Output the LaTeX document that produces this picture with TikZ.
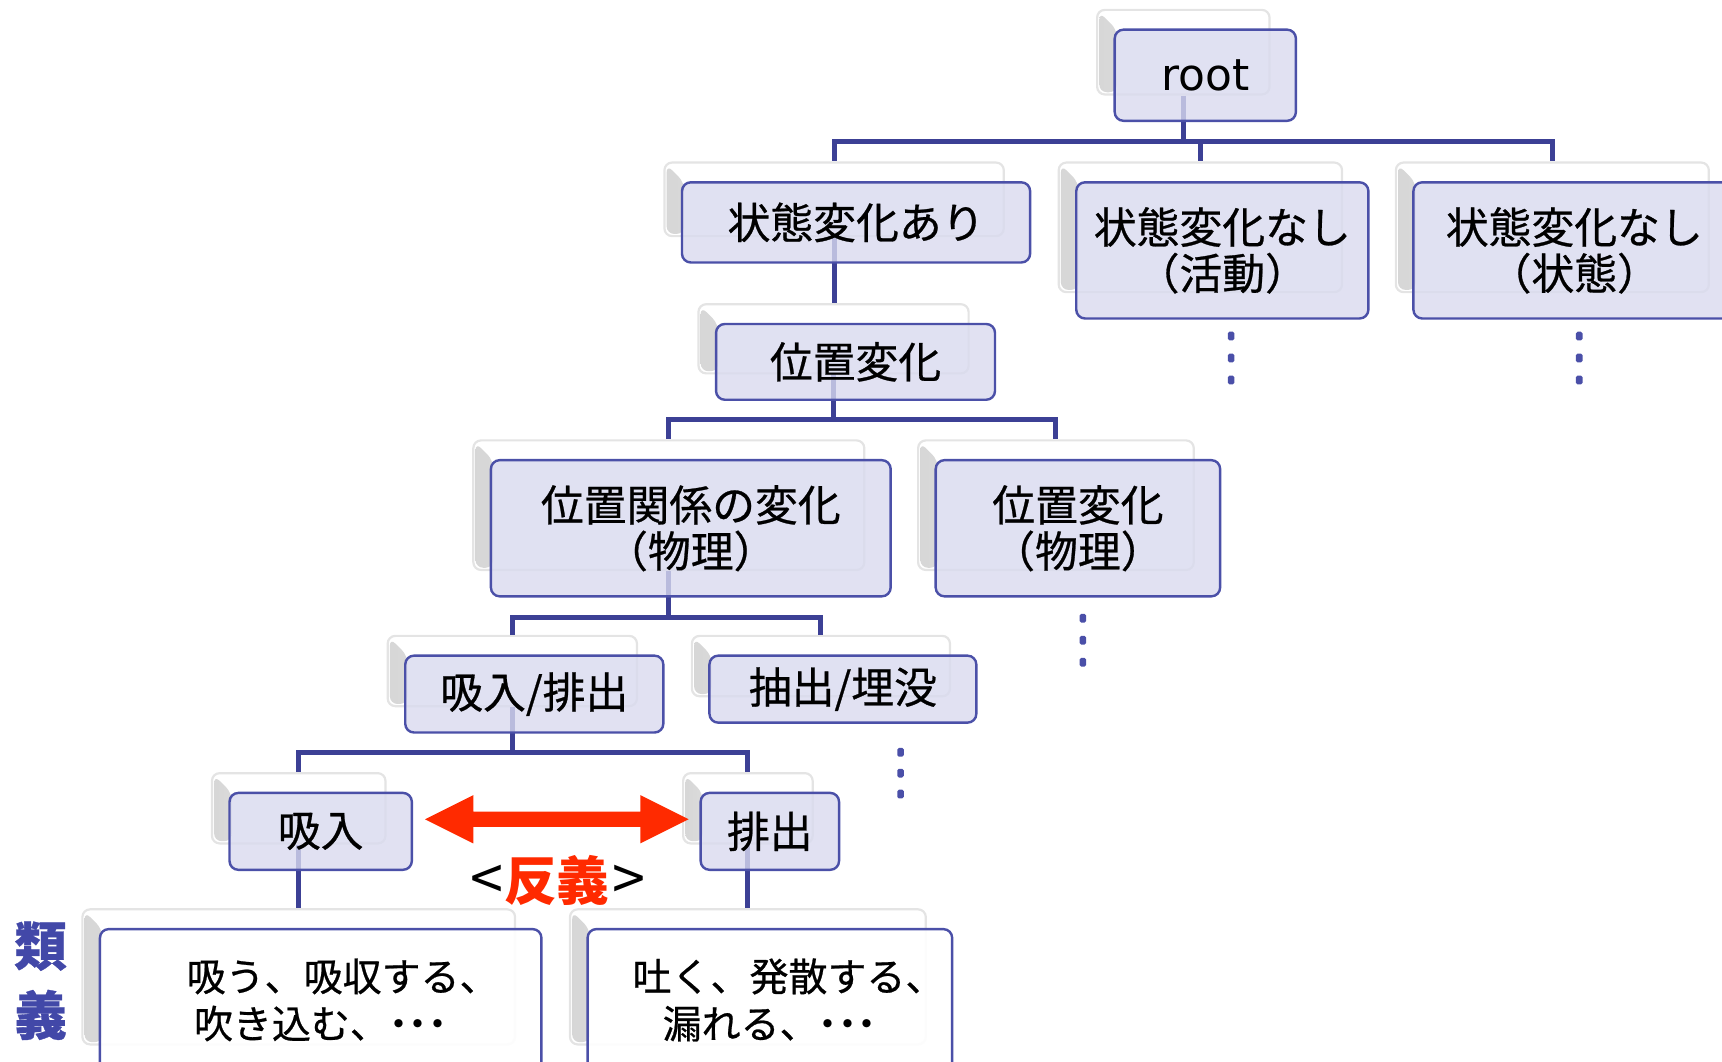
\documentclass[tikz,border=0pt]{standalone}
\usepackage{fontspec}
\setmainfont{Noto Sans CJK JP}[FakeBold=0.6]
\newfontfamily\jpp{Noto Sans CJK JP}[RawFeature={+palt}]
\newfontfamily\rootfont{DejaVu Sans}
\definecolor{bfill}{HTML}{D9DAEF}
\definecolor{bbord}{HTML}{4B50A8}
\definecolor{lnc}{HTML}{3C4095}
\definecolor{hred}{HTML}{FF2A00}
\definecolor{rblue}{HTML}{4248A8}
\definecolor{dotc}{HTML}{4A4FA8}
\definecolor{gbord}{HTML}{E4E4E4}
\tikzset{
  ghost/.style={draw=gbord, line width=2pt, fill=white, rounded corners=7pt, inner sep=0pt,
    path picture={\fill[left color=gray!32, right color=gray!6]
      ([shift={(2pt,-2pt)}]path picture bounding box.north west) --
      ([shift={(18pt,-18pt)}]path picture bounding box.north west) --
      ([shift={(18pt,2pt)}]path picture bounding box.south west) --
      ([shift={(2pt,2pt)}]path picture bounding box.south west) -- cycle;}},
  front/.style={draw=bbord, line width=2.2pt, fill=bfill, fill opacity=0.8, text opacity=1,
    rounded corners=8pt, inner sep=0pt, align=center, font=\fontsize{39}{42}\selectfont},
  whitebox/.style={fill=white, fill opacity=0.9, font=\fontsize{35.5}{43}\selectfont},
  conn/.style={draw=lnc, line width=4.5pt},
}
\newcommand\gbox[5]{\node[ghost, minimum width={#4-#2-8}, minimum height={#5-#3-6}] (#1) at ({(#2+#4)/2-20},{(#3+#5)/2-21}) {};}
\newcommand\frbox[7][]{\node[front,#1, minimum width={#5-#3}, minimum height={#6-#4}] (#2) at ({(#3+#5)/2},{(#4+#6)/2}) {#7};}
\newcommand\tdots{{\jpp ・・・}}
\begin{document}
\begin{tikzpicture}[x=1pt,y=-1pt]
\useasboundingbox (0,0) rectangle (1568,967);
% ghost (back) boxes
\gbox{groot}{1015}{27}{1180}{110}
\gbox{gA}{621}{166}{938}{239}
\gbox{gB}{980}{166}{1246}{290}
\gbox{gC}{1287}{166}{1580}{290}
\gbox{gD}{652}{295}{906}{364}
\gbox{gE}{447}{419}{811}{543}
\gbox{gF}{852}{419}{1111}{543}
\gbox{gG}{369}{597}{604}{667}
\gbox{gH}{646}{597}{889}{658}
\gbox{gI}{209}{722}{375}{792}
\gbox{gJ}{638}{722}{764}{792}
\gbox{gK}{91}{846}{493}{975}
\gbox{gL}{535}{846}{867}{975}
% bar levels
\coordinate (bar1) at (0,129);
\coordinate (bar2) at (0,382);
\coordinate (bar3) at (0,562);
\coordinate (bar4) at (0,685);
% connectors
\draw[conn] (groot.south) -- (groot.south |- bar1) -| (gA.north);
\draw[conn] (groot.south |- bar1) -| (gB.north);
\draw[conn] (groot.south |- bar1) -| (gC.north);
\draw[conn] (gA.south) -- (gA.south |- gD.north);
\draw[conn] (gD.south) -- (gD.south |- bar2) -| (gE.north);
\draw[conn] (gD.south |- bar2) -| (gF.north);
\draw[conn] (gE.south) -- (gE.south |- bar3) -| (gG.north);
\draw[conn] (gE.south |- bar3) -| (gH.north);
\draw[conn] (gG.south) -- (gG.south |- bar4) -| (gI.north);
\draw[conn] (gG.south |- bar4) -| (gJ.north);
\draw[conn] (gI.south) -- (gI.south |- gK.north);
\draw[conn] (gJ.south) -- (gJ.south |- gL.north);
% front boxes
\frbox{root}{1015}{27}{1180}{110}{\rootfont\fontsize{40}{44}\selectfont root}
\frbox{A}{621}{166}{938}{239}{状態変化あり}
\frbox{B}{980}{166}{1246}{290}{状態変化なし\\（活動）}
\frbox{C}{1287}{166}{1580}{290}{状態変化なし\\（状態）}
\frbox{D}{652}{295}{906}{364}{位置変化}
\frbox{E}{447}{419}{811}{543}{位置関係の変化\\（物理）}
\frbox{F}{852}{419}{1111}{543}{位置変化\\（物理）}
\frbox{G}{369}{597}{604}{667}{吸入/排出}
\frbox{H}{646}{597}{889}{658}{抽出/埋没}
\frbox{I}{209}{722}{375}{792}{吸入}
\frbox{J}{638}{722}{764}{792}{排出}
\frbox[whitebox]{K}{91}{846}{493}{975}{\hspace*{40pt}吸う、吸収する、\\吹き込む、\tdots}
\frbox[whitebox]{L}{535}{846}{867}{975}{\hspace*{34pt}吐く、発散する、\\漏れる、\tdots}
% continuation dots
\foreach \x/\y in {1121/306,1121/326,1121/346,1438/306,1438/326,1438/346,986/563,986/583,986/603,820/685,820/704,820/723}
  \fill[dotc, rounded corners=1.5pt] ({\x-3},{\y-4}) rectangle ({\x+3},{\y+4});
% antonym arrow
\fill[hred] (387,746) -- (431,724) -- (431,739) -- (583,739) -- (583,724) -- (627,746)
  -- (583,768) -- (583,753) -- (431,753) -- (431,768) -- cycle;
\node[font=\jpp\fontsize{54}{56}\selectfont, inner sep=0pt] (hangi) at (508,802)
  {<\kern1pt{\color{hred}\bfseries\fontsize{48}{50}\selectfont 反義}\kern3pt>};
\node[font=\bfseries\fontsize{48}{63}\selectfont, text=rblue, align=center, inner sep=0pt] (ruigi) at (37,893) {類\\義};
\end{tikzpicture}
\end{document}
